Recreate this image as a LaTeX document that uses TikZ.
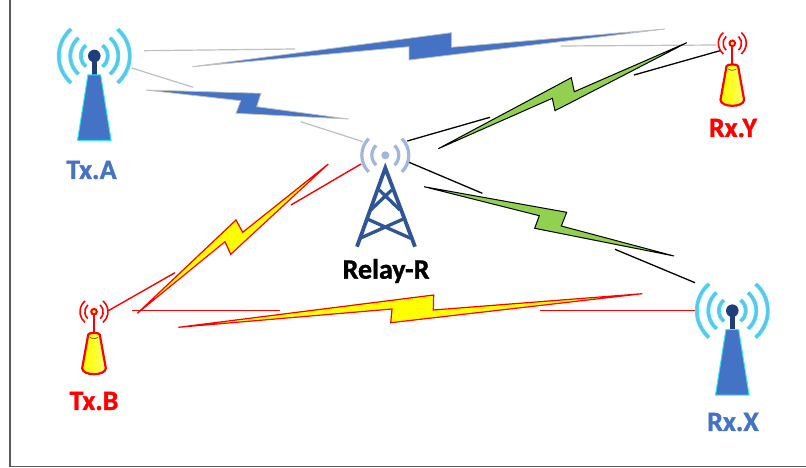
\documentclass[tikz,border=0pt]{standalone}
\usepackage{fontspec}
\setmainfont[BoldFeatures={FakeBold=1.2}]{Carlito}
\definecolor{bluebolt}{HTML}{4472C4}
\definecolor{greenbolt}{HTML}{92D050}
\definecolor{darkblue}{HTML}{2F5597}
\definecolor{headblue}{HTML}{203F7A}
\definecolor{paleblue}{HTML}{A0B6DC}
\definecolor{waveblue}{HTML}{6FBCE6}
\definecolor{wavecyan}{HTML}{2EEAF8}
\definecolor{framegray}{HTML}{595959}
\definecolor{linkgray}{HTML}{BFBFBF}
\definecolor{pureyellow}{HTML}{FFFF00}
\definecolor{purered}{HTML}{FF0000}
\tikzset{
  x=1pt,y=-1pt,
  boltblue/.style={fill=bluebolt,draw=linkgray,line width=0.8pt},
  boltgreen/.style={fill=greenbolt,draw=black,line width=1pt},
  boltyellow/.style={fill=pureyellow,draw=purered,line width=1.2pt},
  graylink/.style={draw=linkgray,line width=1.2pt},
  blacklink/.style={draw=black,line width=1.3pt},
  redlink/.style={draw=purered,line width=1.4pt},
  lbl/.style={font=\bfseries\fontsize{28}{29}\selectfont,inner sep=0pt,anchor=center},
  bigtower/.pic={
    \foreach \r/\a in {35.5/49,24/49,13.5/52}{
      \draw[wavecyan,line width=3.9pt]
        (180-\a:\r pt) arc[start angle=180-\a,end angle=180+\a,radius=\r pt];
      \draw[wavecyan,line width=3.9pt]
        (\a:\r pt) arc[start angle=\a,end angle=-\a,radius=\r pt];
      \draw[waveblue,line width=2.2pt]
        (180-\a:\r pt) arc[start angle=180-\a,end angle=180+\a,radius=\r pt];
      \draw[waveblue,line width=2.2pt]
        (\a:\r pt) arc[start angle=\a,end angle=-\a,radius=\r pt];
    }
    \fill[headblue] (-2.2,0) rectangle (2.2,19.5);
    \fill[headblue] (0,0) circle[radius=6.3pt];
    \draw[fill=bluebolt,draw=wavecyan,line width=1pt] (-6.4,19) -- (6.4,19) -- (16.8,84.3) -- (-16.8,84.3) -- cycle;
  },
  smalltower/.pic={
    \foreach \r/\a in {14/50,9.2/48}{
      \draw[purered,line width=1.6pt]
        (180-\a:\r pt) arc[start angle=180-\a,end angle=180+\a,radius=\r pt];
      \draw[purered,line width=1.6pt]
        (\a:\r pt) arc[start angle=\a,end angle=-\a,radius=\r pt];
    }
    \draw[purered,line width=1.9pt] (0,3) -- (0,22);
    \draw[purered,fill=pureyellow!50!white,line width=2pt] (0,0) circle[radius=2.8pt];
    \draw[draw=purered,line width=2.2pt,left color=pureyellow,right color=pureyellow!50!white,middle color=pureyellow!85!white]
      (-5.8,23) .. controls (-5.5,20.5) and (5.5,20.5) .. (5.8,23)
      -- (11.8,56.5) .. controls (11.5,64.5) and (-11.5,64.5) .. (-11.8,56.5) -- cycle;
    \draw[black!70!pureyellow,line width=0.6pt] (-4,25.5) .. controls (-2,27.5) and (2,27.5) .. (4,25.5);
  }
}
\begin{document}
\begin{tikzpicture}
\useasboundingbox (0,0) rectangle (806,468);
\fill[white] (0,0) rectangle (806,468);
% frame
\draw[framegray,line width=1.4pt] (10,-2) -- (10,466.5) -- (808,466.5);
% gray links
\draw[graylink] (144,50.7) -- (295,49);
\draw[graylink] (560.7,46) -- (716.7,45);
\draw[graylink] (131.7,68) -- (193.3,87.3);
\draw[graylink] (300.7,121.7) -- (363,141.7);
% black links
\draw[blacklink] (407.3,141) -- (490,117.3);
\draw[blacklink] (634,75) -- (720,50.7);
\draw[blacklink] (406.7,161.3) -- (482.3,193.3);
\draw[blacklink] (615,249.3) -- (695,282.7);
% red links
\draw[redlink] (291,205) -- (361,164);
\draw[redlink] (108.3,310.7) -- (175,272.7);
\draw[redlink] (131.7,310.5) -- (280,310.5);
\draw[redlink] (540,310.5) -- (695,310.5);
% bolts
\draw[boltblue] (192.3,66.7) -- (451.5,32.7) -- (451.5,47.3) -- (665,29) -- (409,60) -- (409,46.7) -- cycle;
\draw[boltblue] (146,90) -- (261,93.3) -- (256.7,106.7) -- (348.3,119) -- (236,113.3) -- (240.7,100.7) -- cycle;
\draw[boltgreen] (438.3,148.7) -- (571.3,77.7) -- (574.3,91.7) -- (686.7,42.7) -- (555,110.7) -- (552.3,98.3) -- cycle;
\draw[boltgreen] (424,186.7) -- (566.7,212.3) -- (561.3,226) -- (674,256) -- (534.7,228.3) -- (539.3,215.7) -- cycle;
\draw[boltyellow] (137.3,313.3) -- (236,220) -- (242.7,232.3) -- (328.3,164) -- (230.7,254.3) -- (225,241.7) -- cycle;
\draw[boltyellow] (178.3,327.3) -- (433.7,295) -- (433.3,310) -- (642.3,293.7) -- (390.7,322.7) -- (392,309) -- cycle;
% towers
\pic at (94.3,56) {bigtower};
\pic at (732.3,310.7) {bigtower};
\pic at (732.3,43.3) {smalltower};
\pic at (94,311.7) {smalltower};
% relay
\foreach \r/\a in {23.5/45,13.5/47}{
  \draw[paleblue,line width=3.2pt] ([shift={(385.3,155.3)}]180-\a:\r pt) arc[start angle=180-\a,end angle=180+\a,radius=\r pt];
  \draw[paleblue,line width=3.2pt] ([shift={(385.3,155.3)}]\a:\r pt) arc[start angle=\a,end angle=-\a,radius=\r pt];
}
\fill[paleblue] (385.3,155.3) circle[radius=4pt];
\draw[darkblue,line width=3.8pt,line join=miter] (357,246.7) -- (385.3,168) -- (415,246.7);
\draw[darkblue,line width=3.3pt] (379.3,190) -- (400,210) (391.7,190) -- (370.7,210)
  (367.3,219) -- (410.7,238.3) (403.3,219) -- (360,238.3);
% labels
\node[lbl,text=bluebolt] (txa) at (91.5,170) {Tx.A};
\node[lbl,text=black] (relay) at (386,271) {Relay-R};
\node[lbl,text=purered] (rxy) at (733,128) {Rx.Y};
\node[lbl,text=purered] (txb) at (94,401) {Tx.B};
\node[lbl,text=bluebolt] (rxx) at (733,422) {Rx.X};
\end{tikzpicture}
\end{document}
